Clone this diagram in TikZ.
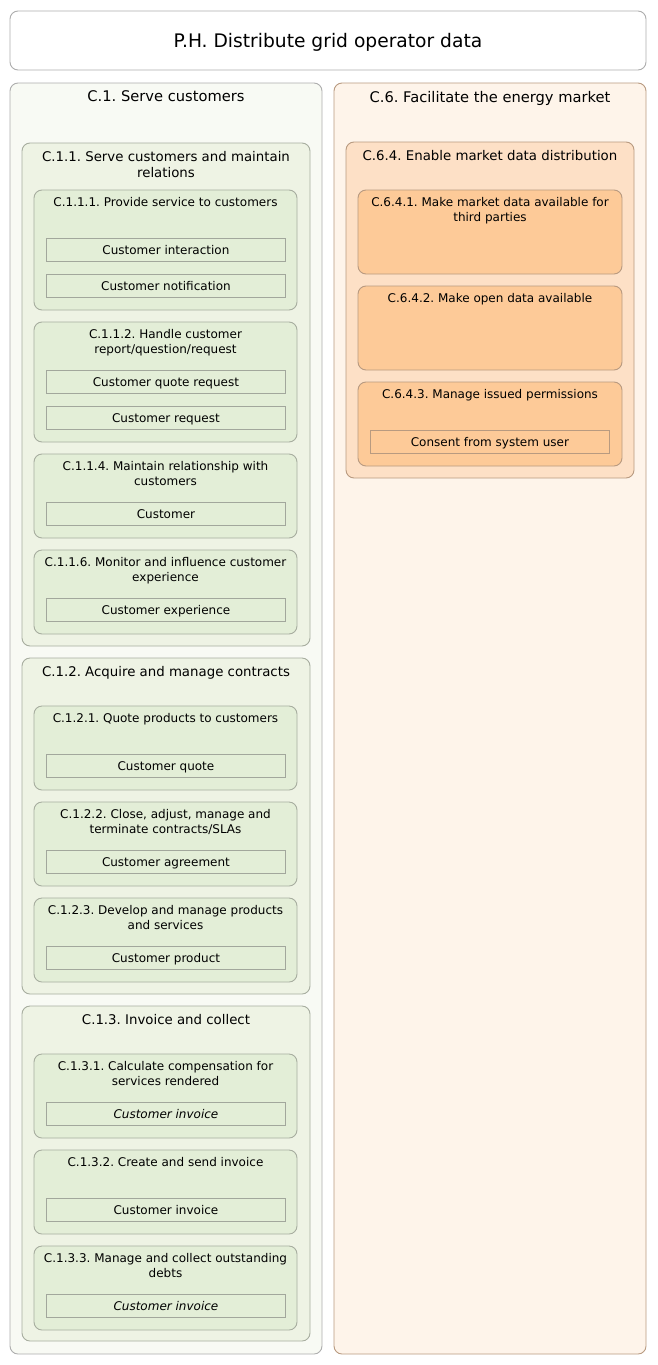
\documentclass[tikz,border=0pt]{standalone}
\usepackage{fontspec}
\setmainfont{DejaVu Sans}
\frenchspacing
\begin{document}
\begin{tikzpicture}[x=1pt,y=-1pt,
  box/.style={rounded corners=8pt, line width=0.9pt, inner sep=0pt, outer sep=0pt, anchor=north west},
  topbox/.style={box, draw=black!32, fill=white},
  gA/.style={box, draw=black!32, fill=gOne},
  gB/.style={box, draw=gLine, fill=gTwo},
  gC/.style={box, draw=gLine, fill=gThree},
  oA/.style={box, draw=oLine, fill=oOne},
  oB/.style={box, draw=oLine, fill=oTwo},
  oC/.style={box, draw=oLine, fill=oThree},
  gitem/.style={draw=iLine, fill=gThree, line width=0.9pt, anchor=north west, inner sep=0pt, minimum width=239pt, minimum height=23pt, text height=8.6pt, text depth=0pt, font=\fontsize{12}{14.4}\selectfont},
  oitem/.style={gitem, draw=oLine, fill=oThree},
  ttl/.style={anchor=north, align=center, inner sep=0pt, yshift=-0.8pt},
  t0/.style={ttl, font=\fontsize{18.67}{22.4}\selectfont},
  t1/.style={ttl, font=\fontsize{14.67}{17.6}\selectfont},
  t2/.style={ttl, font=\fontsize{13.33}{16}\selectfont},
  t3/.style={ttl, font=\fontsize{12}{14.4}\selectfont},
]
\definecolor{gOne}{HTML}{F8FAF4}
\definecolor{gTwo}{HTML}{EEF3E4}
\definecolor{gThree}{HTML}{E3EED7}
\definecolor{gLine}{HTML}{A7AD9F}
\definecolor{iLine}{HTML}{A2A79C}
\definecolor{oOne}{HTML}{FEF4EA}
\definecolor{oTwo}{HTML}{FDE0C6}
\definecolor{oThree}{HTML}{FDCA98}
\definecolor{oLine}{HTML}{B89A80}
\useasboundingbox (0,0) rectangle (657,1365);

% top
\node[topbox, minimum width=636pt, minimum height=59pt] (ph) at (10,11) {};
\node[t0] (pht) at (328,32.8) {P.H. Distribute grid operator data};

% C.1
\node[gA, minimum width=312pt, minimum height=1271pt] (c1) at (10,83) {};
\node[t1] (c1t) at (166,90) {C.1. Serve customers};

% C.1.1
\node[gB, minimum width=288pt, minimum height=503pt] (c11) at (22,143) {};
\node[t2] (c11t) at (166,150) {C.1.1. Serve customers and maintain\\relations};

\node[gC, minimum width=263pt, minimum height=120pt] (c111) at (34,190) {};
\node[t3] (c111t) at (165.5,196.6) {C.1.1.1. Provide service to customers};
\node[gitem] (i1) at (46,238) {Customer interaction};
\node[gitem] (i2) at (46,274) {Customer notification};

\node[gC, minimum width=263pt, minimum height=120pt] (c112) at (34,322) {};
\node[t3] (c112t) at (165.5,328.6) {C.1.1.2. Handle customer\\report/question/request};
\node[gitem] (i3) at (46,370) {Customer quote request};
\node[gitem] (i4) at (46,406) {Customer request};

\node[gC, minimum width=263pt, minimum height=84pt] (c114) at (34,454) {};
\node[t3] (c114t) at (165.5,460.6) {C.1.1.4. Maintain relationship with\\customers};
\node[gitem] (i5) at (46,502) {Customer};

\node[gC, minimum width=263pt, minimum height=84pt] (c116) at (34,550) {};
\node[t3] (c116t) at (165.5,556.6) {C.1.1.6. Monitor and influence customer\\experience};
\node[gitem] (i6) at (46,598) {Customer experience};

% C.1.2
\node[gB, minimum width=288pt, minimum height=336pt] (c12) at (22,658) {};
\node[t2] (c12t) at (166,665) {C.1.2. Acquire and manage contracts};

\node[gC, minimum width=263pt, minimum height=84pt] (c121) at (34,706) {};
\node[t3] (c121t) at (165.5,712.6) {C.1.2.1. Quote products to customers};
\node[gitem] (i7) at (46,754) {Customer quote};

\node[gC, minimum width=263pt, minimum height=84pt] (c122) at (34,802) {};
\node[t3] (c122t) at (165.5,808.6) {C.1.2.2. Close, adjust, manage and\\terminate contracts/SLAs};
\node[gitem] (i8) at (46,850) {Customer agreement};

\node[gC, minimum width=263pt, minimum height=84pt] (c123) at (34,898) {};
\node[t3] (c123t) at (165.5,904.6) {C.1.2.3. Develop and manage products\\and services};
\node[gitem] (i9) at (46,946) {Customer product};

% C.1.3
\node[gB, minimum width=288pt, minimum height=335pt] (c13) at (22,1006) {};
\node[t2] (c13t) at (166,1013) {C.1.3. Invoice and collect};

\node[gC, minimum width=263pt, minimum height=84pt] (c131) at (34,1054) {};
\node[t3] (c131t) at (165.5,1060.6) {C.1.3.1. Calculate compensation for\\services rendered};
\node[gitem] (i10) at (46,1102) {\itshape Customer invoice};

\node[gC, minimum width=263pt, minimum height=84pt] (c132) at (34,1150) {};
\node[t3] (c132t) at (165.5,1156.6) {C.1.3.2. Create and send invoice};
\node[gitem] (i11) at (46,1198) {Customer invoice};

\node[gC, minimum width=263pt, minimum height=84pt] (c133) at (34,1246) {};
\node[t3] (c133t) at (165.5,1252.6) {C.1.3.3. Manage and collect outstanding\\debts};
\node[gitem] (i12) at (46,1294) {\itshape Customer invoice};

% C.6
\node[oA, minimum width=312pt, minimum height=1271pt] (c6) at (334,83) {};
\node[t1] (c6t) at (490,90) {C.6. Facilitate the energy market};

\node[oB, minimum width=288pt, minimum height=336pt] (c64) at (346,142) {};
\node[t2] (c64t) at (490,149) {C.6.4. Enable market data distribution};

\node[oC, minimum width=264pt, minimum height=84pt] (c641) at (358,190) {};
\node[t3] (c641t) at (490,196.6) {C.6.4.1. Make market data available for\\third parties};

\node[oC, minimum width=264pt, minimum height=84pt] (c642) at (358,286) {};
\node[t3] (c642t) at (490,292.6) {C.6.4.2. Make open data available};

\node[oC, minimum width=264pt, minimum height=84pt] (c643) at (358,382) {};
\node[t3] (c643t) at (490,388.6) {C.6.4.3. Manage issued permissions};
\node[oitem] (i13) at (370,430) {Consent from system user};
\end{tikzpicture}
\end{document}
